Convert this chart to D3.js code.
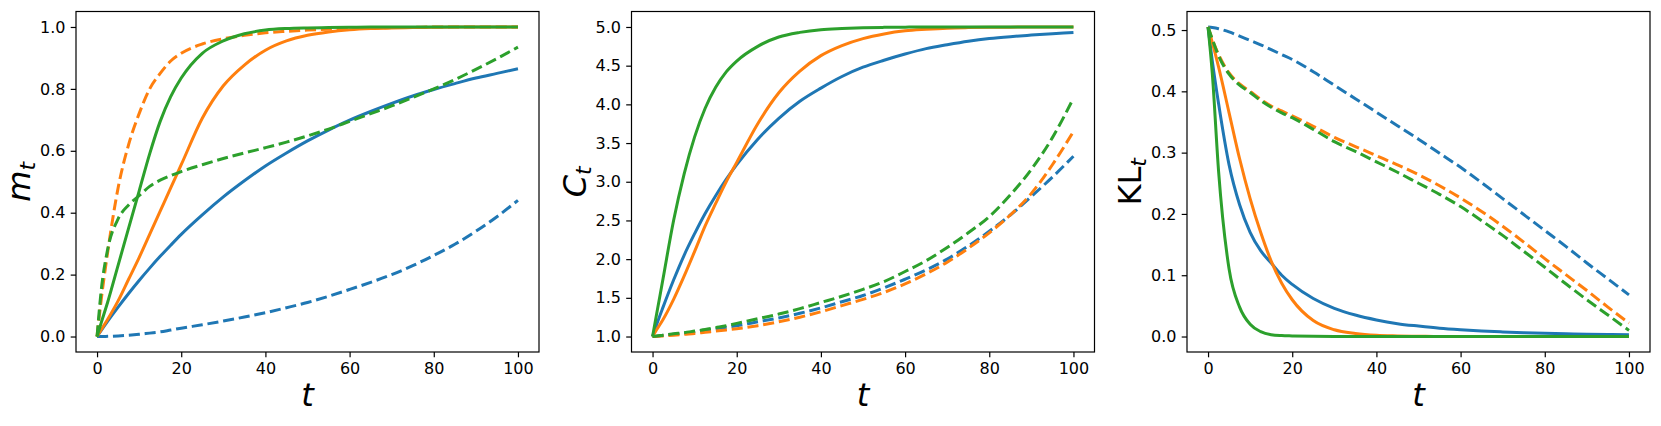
<!DOCTYPE html>
<meta charset="UTF-8">
<style>
  body { margin: 0; background: #fff; }
  svg { display: block; }
  .tick text { font-family: "DejaVu Sans", sans-serif; font-size: 16px; fill: #000; }
  .tick line { stroke: #000; stroke-width: 1.2px; }
  .frame { fill: none; stroke: #000; stroke-width: 1.2px; }
  .curve { fill: none; stroke-width: 3px; stroke-linejoin: round; }
  .lab { font-family: "DejaVu Sans", sans-serif; font-size: 32px; fill: #000; }
</style>
<body>
<div class="chart"></div>
<script src="https://d3js.org/d3.v7.min.js"></script>
<script>
// time grid shared by every curve
var T = [0, 1, 2.5, 5, 7.5, 10, 12.5, 15, 17.5, 20, 25, 30, 35, 40, 45, 50, 55, 60, 65, 70, 75, 80, 85, 90, 95, 100];

// panel 1: m_t
var mBlue      = [0, 0.02, 0.049, 0.095, 0.139, 0.181, 0.221, 0.259, 0.295, 0.330, 0.393, 0.451, 0.503, 0.551, 0.593, 0.632, 0.667, 0.699, 0.727, 0.753, 0.777, 0.798, 0.817, 0.835, 0.850, 0.865];
var mBlueDash  = [0, 0.0001, 0.0005, 0.002, 0.004, 0.007, 0.011, 0.015, 0.021, 0.027, 0.038, 0.05, 0.063, 0.077, 0.093, 0.11, 0.13, 0.152, 0.175, 0.2, 0.229, 0.262, 0.298, 0.34, 0.387, 0.44];
var mOrange    = [0, 0.022, 0.055, 0.115, 0.185, 0.255, 0.33, 0.405, 0.48, 0.555, 0.705, 0.81, 0.877, 0.925, 0.955, 0.973, 0.984, 0.991, 0.995, 0.997, 0.998, 0.999, 1.0, 1.0, 1.0, 1.0];
var mOrangeDash= [0, 0.12, 0.27, 0.48, 0.62, 0.72, 0.80, 0.85, 0.89, 0.915, 0.945, 0.962, 0.973, 0.981, 0.986, 0.99, 0.993, 0.995, 0.997, 0.998, 0.999, 1.0, 1.0, 1.0, 1.0, 1.0];
var mGreen     = [0, 0.045, 0.11, 0.23, 0.35, 0.47, 0.59, 0.695, 0.775, 0.835, 0.915, 0.955, 0.978, 0.99, 0.995, 0.997, 0.998, 0.999, 1.0, 1.0, 1.0, 1.0, 1.0, 1.0, 1.0, 1.0];
var mGreenDash = [0, 0.15, 0.28, 0.38, 0.425, 0.455, 0.485, 0.505, 0.52, 0.533, 0.555, 0.575, 0.593, 0.61, 0.628, 0.648, 0.67, 0.695, 0.72, 0.745, 0.772, 0.80, 0.83, 0.863, 0.898, 0.935];

// panel 2: C_t
var cBlue      = [1, 1.16, 1.38, 1.73, 2.05, 2.33, 2.59, 2.82, 3.03, 3.22, 3.55, 3.82, 4.04, 4.21, 4.36, 4.48, 4.57, 4.65, 4.72, 4.77, 4.815, 4.85, 4.875, 4.895, 4.913, 4.93];
var cBlueDash  = [1, 1.005, 1.015, 1.03, 1.045, 1.06, 1.08, 1.10, 1.12, 1.14, 1.19, 1.24, 1.30, 1.37, 1.45, 1.53, 1.63, 1.74, 1.86, 2.0, 2.17, 2.36, 2.57, 2.81, 3.06, 3.33];
var cOrange    = [1, 1.09, 1.22, 1.48, 1.78, 2.1, 2.43, 2.72, 3.0, 3.25, 3.75, 4.15, 4.43, 4.63, 4.76, 4.85, 4.91, 4.95, 4.97, 4.985, 4.992, 4.996, 4.998, 5.0, 5.0, 5.0];
var cOrangeDash= [1, 1.002, 1.008, 1.018, 1.03, 1.04, 1.055, 1.07, 1.085, 1.10, 1.14, 1.19, 1.25, 1.32, 1.40, 1.48, 1.57, 1.68, 1.81, 1.96, 2.14, 2.34, 2.57, 2.85, 3.22, 3.65];
var cGreen     = [1, 1.3, 1.75, 2.5, 3.1, 3.58, 3.95, 4.22, 4.42, 4.56, 4.75, 4.87, 4.93, 4.965, 4.98, 4.99, 4.995, 4.998, 5.0, 5.0, 5.0, 5.0, 5.0, 5.0, 5.0, 5.0];
var cGreenDash = [1, 1.006, 1.017, 1.035, 1.05, 1.07, 1.09, 1.115, 1.14, 1.17, 1.23, 1.29, 1.36, 1.44, 1.52, 1.61, 1.71, 1.84, 1.98, 2.15, 2.34, 2.55, 2.83, 3.16, 3.57, 4.08];

// panel 3: KL_t
var kBlue      = [0.505, 0.45, 0.38, 0.28, 0.215, 0.17, 0.14, 0.12, 0.10, 0.085, 0.062, 0.046, 0.035, 0.027, 0.021, 0.017, 0.0135, 0.011, 0.009, 0.0075, 0.0062, 0.0052, 0.0044, 0.0038, 0.0033, 0.003];
var kBlueDash  = [0.505, 0.504, 0.502, 0.497, 0.49, 0.483, 0.476, 0.468, 0.46, 0.452, 0.432, 0.41, 0.388, 0.366, 0.344, 0.322, 0.299, 0.276, 0.251, 0.225, 0.199, 0.173, 0.147, 0.12, 0.094, 0.068];
var kOrange    = [0.505, 0.48, 0.44, 0.365, 0.29, 0.225, 0.17, 0.123, 0.087, 0.06, 0.026, 0.011, 0.005, 0.002, 0.001, 0.0005, 0, 0, 0, 0, 0, 0, 0, 0, 0, 0];
var kOrangeDash= [0.505, 0.485, 0.46, 0.43, 0.412, 0.40, 0.387, 0.376, 0.368, 0.36, 0.343, 0.325, 0.31, 0.295, 0.28, 0.264, 0.246, 0.226, 0.204, 0.18, 0.154, 0.127, 0.101, 0.075, 0.048, 0.022];
var kGreen     = [0.505, 0.43, 0.27, 0.11, 0.048, 0.02, 0.008, 0.003, 0.0015, 0.001, 0.0003, 0, 0, 0, 0, 0, 0, 0, 0, 0, 0, 0, 0, 0, 0, 0];
var kGreenDash = [0.505, 0.485, 0.458, 0.428, 0.41, 0.398, 0.385, 0.374, 0.365, 0.357, 0.338, 0.318, 0.302, 0.285, 0.268, 0.25, 0.232, 0.212, 0.189, 0.165, 0.139, 0.113, 0.086, 0.06, 0.035, 0.01];

var xTicks = [0, 20, 40, 60, 80, 100];
var mTicks = [0, 0.2, 0.4, 0.6, 0.8, 1.0];
var cTicks = [1.0, 1.5, 2.0, 2.5, 3.0, 3.5, 4.0, 4.5, 5.0];
var kTicks = [0, 0.1, 0.2, 0.3, 0.4, 0.5];

var blue = "#1f77b4", orange = "#ff7f0e", green = "#2ca02c";

var W = 1661, H = 426, axTop = 11.5, axBottom = 352, panelW = 463;

var panels = [
  { left: 76, label: ["m", "t"], italicMain: true, ticks: mTicks,
    series: [[mBlue, blue, false], [mBlueDash, blue, true], [mOrange, orange, false], [mOrangeDash, orange, true], [mGreen, green, false], [mGreenDash, green, true]] },
  { left: 631.5, label: ["C", "t"], italicMain: true, ticks: cTicks,
    series: [[cBlue, blue, false], [cBlueDash, blue, true], [cOrange, orange, false], [cOrangeDash, orange, true], [cGreen, green, false], [cGreenDash, green, true]] },
  { left: 1187, label: ["KL", "t"], italicMain: false, ticks: kTicks,
    series: [[kBlue, blue, false], [kBlueDash, blue, true], [kOrange, orange, false], [kOrangeDash, orange, true], [kGreen, green, false], [kGreenDash, green, true]] }
];

var svg = d3.select(".chart").append("svg").attr("width", W).attr("height", H);

panels.forEach(function (p) {
  var right = p.left + panelW;
  var tx = d3.extent(T), tpad = (tx[1] - tx[0]) * 0.05;
  var x = d3.scaleLinear().domain([tx[0] - tpad, tx[1] + tpad]).range([p.left, right]);
  var all = [];
  p.series.forEach(function (s) { all = all.concat(s[0]); });
  var ex = d3.extent(all), pad = (ex[1] - ex[0]) * 0.05;
  var y = d3.scaleLinear().domain([ex[0] - pad, ex[1] + pad]).range([axBottom, axTop]);

  var g = svg.append("g");

  var line = d3.line()
    .x(function (d) { return x(d[0]); })
    .y(function (d) { return y(d[1]); })
    .curve(d3.curveMonotoneX);

  p.series.forEach(function (s) {
    var pts = T.map(function (t, i) { return [t, s[0][i]]; });
    g.append("path")
      .attr("class", "curve")
      .attr("stroke", s[1])
      .attr("stroke-dasharray", s[2] ? "11.1,4.8" : null)
      .attr("d", line(pts));
  });

  var xa = g.append("g").attr("transform", "translate(0," + axBottom + ")")
    .call(d3.axisBottom(x).tickValues(xTicks).tickSize(5.3).tickPadding(5.3).tickFormat(d3.format("d")));
  xa.select(".domain").remove();
  xa.attr("font-size", null).attr("font-family", null);

  var ya = g.append("g").attr("transform", "translate(" + p.left + ",0)")
    .call(d3.axisLeft(y).tickValues(p.ticks).tickSize(5.3).tickPadding(5.3).tickFormat(d3.format(".1f")));
  ya.select(".domain").remove();
  ya.attr("font-size", null).attr("font-family", null);

  g.append("rect").attr("class", "frame")
    .attr("x", p.left).attr("y", axTop).attr("width", panelW).attr("height", axBottom - axTop);

  // x label
  g.append("text").attr("class", "lab")
    .attr("x", (p.left + right) / 2).attr("y", 406)
    .attr("text-anchor", "middle").style("font-style", "italic").text("t");

  // y label, rotated
  var yl = g.append("text").attr("class", "lab")
    .attr("transform", "translate(" + (p.left - 46) + "," + ((axTop + axBottom) / 2) + ") rotate(-90)")
    .attr("text-anchor", "middle");
  yl.append("tspan").style("font-style", p.italicMain ? "italic" : "normal").text(p.label[0]);
  yl.append("tspan").style("font-style", "italic").attr("font-size", "22px").attr("dy", "5").text(p.label[1]);
});
</script>
</body>
